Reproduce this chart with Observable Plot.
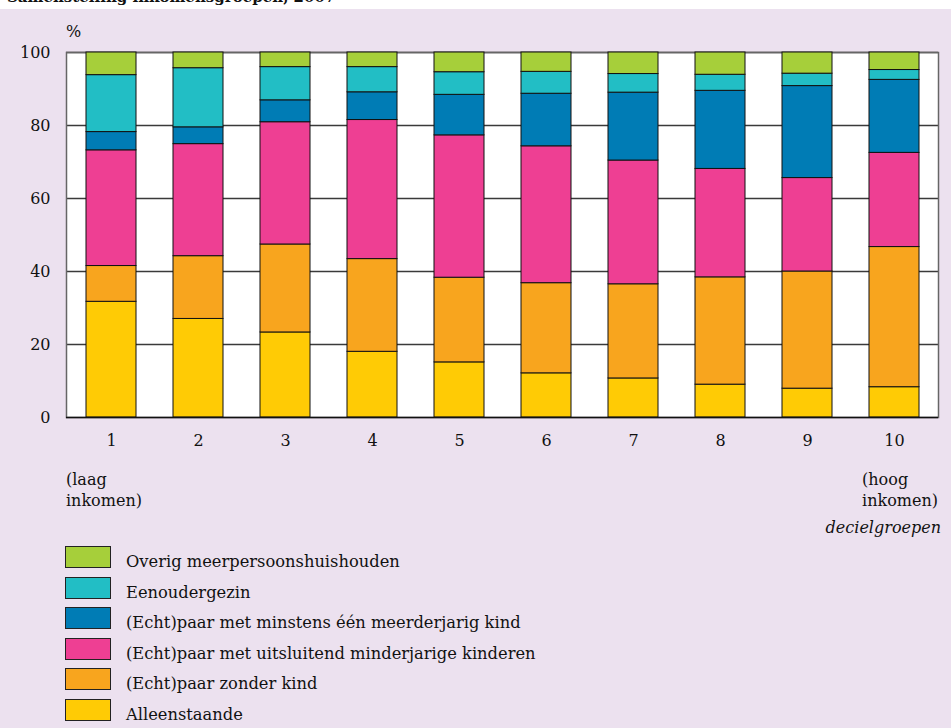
<!DOCTYPE html>
<html>
<head>
<meta charset="utf-8">
<script src="https://cdn.jsdelivr.net/npm/d3@7"></script>
<script src="https://cdn.jsdelivr.net/npm/@observablehq/plot@0.6"></script>
<style>
  html, body { margin: 0; padding: 0; background: #ffffff; }
  body { width: 951px; height: 728px; overflow: hidden; font-family: "DejaVu Serif", serif; color: #111; }
  #title { height: 9px; overflow: hidden; position: relative; }
  #title span { position: absolute; left: 7px; top: -12px; font-weight: bold; font-size: 15px; line-height: 18px; white-space: nowrap; }
  #panel { position: relative; height: 719px; background: #ece1ef; }
  #chart svg { display: block; }
  .note { position: absolute; font-size: 16px; line-height: 21px; white-space: nowrap; }
  #legend { position: absolute; left: 65px; top: 537px; }
  .row { height: 30.5px; position: relative; }
  .sw { width: 44px; height: 20px; border: 1px solid #222; box-sizing: content-box; position: absolute; left: 0; top: 0; }
  .lt { position: absolute; left: 61px; top: 5px; height: 22px; line-height: 22px; font-size: 16.3px; white-space: nowrap; }
</style>
</head>
<body>
<div id="title"><span>Samenstelling inkomensgroepen, 2007</span></div>
<div id="panel">
  <div id="chart"></div>
  <div class="note" style="left:66px; top:14px; line-height:18px;">%</div>
  <div class="note" style="left:66px; top:460px;">(laag<br>inkomen)</div>
  <div class="note" style="right:13px; top:460px;">(hoog<br>inkomen)</div>
  <div class="note" style="right:10px; top:508px; font-style:italic;">decielgroepen</div>
  <div id="legend"></div>
</div>
<script>
// Deciles (x categories)
const deciles = [1, 2, 3, 4, 5, 6, 7, 8, 9, 10];

// Series names, bottom of the stack first
const groups = [
  "Alleenstaande",
  "(Echt)paar zonder kind",
  "(Echt)paar met uitsluitend minderjarige kinderen",
  "(Echt)paar met minstens één meerderjarig kind",
  "Eenoudergezin",
  "Overig meerpersoonshuishouden"
];

// Series colours (same order as groups)
const colors = ["#ffcb05", "#f8a51e", "#ee3f93", "#007cb5", "#22bec5", "#a6cf3a"];

// Values (% per decile)
const alleenstaande   = [31.7, 27.0, 23.3, 18.0, 15.1, 12.1, 10.7, 9.0, 7.9, 8.3];
const zonderKind      = [9.8, 17.2, 24.1, 25.4, 23.2, 24.7, 25.8, 29.4, 32.1, 38.4];
const minderjarig     = [31.7, 30.7, 33.5, 38.1, 39.0, 37.5, 33.9, 29.7, 25.6, 25.8];
const meerderjarig    = [5.0, 4.6, 6.0, 7.6, 11.1, 14.4, 18.6, 21.4, 25.2, 20.0];
const eenouder        = [15.6, 16.2, 9.1, 6.9, 6.2, 6.0, 5.1, 4.4, 3.4, 2.7];
const overig          = [6.2, 4.3, 4.0, 4.0, 5.4, 5.3, 5.9, 6.1, 5.8, 4.8];

const series = [alleenstaande, zonderKind, minderjarig, meerderjarig, eenouder, overig];
const yTicks = [0, 20, 40, 60, 80, 100];

const data = [];
groups.forEach((g, gi) => {
  deciles.forEach((d, di) => data.push({decile: d, group: g, value: series[gi][di]}));
});

const chart = Plot.plot({
  width: 951,
  height: 460,
  marginTop: 43,
  marginBottom: 52,
  marginLeft: 66,
  marginRight: 13,
  style: {fontFamily: "DejaVu Serif, serif", fontSize: "16px", background: "transparent", color: "#111"},
  x: {type: "band", domain: deciles, paddingInner: 0.43, paddingOuter: 0.2, label: null},
  y: {domain: [0, 100], label: null},
  color: {domain: groups, range: colors},
  marks: [
    Plot.frame({fill: "white", stroke: "none"}),
    Plot.gridY(yTicks.slice(1), {stroke: "#3a3a3a", strokeOpacity: 1, strokeWidth: 1.5}),
    Plot.frame({stroke: "#666", strokeWidth: 1.5}),
    Plot.barY(data, {x: "decile", y: "value", fill: "group", stroke: "#111", strokeWidth: 1, order: groups}),
    Plot.ruleY([0], {stroke: "#111", strokeWidth: 1.5}),
    Plot.axisY({ticks: yTicks, tickSize: 0, tickPadding: 16, label: null}),
    Plot.axisX({tickSize: 0, tickPadding: 17, label: null})
  ]
});
document.getElementById("chart").appendChild(chart);

// Legend (top-to-bottom = top of stack first)
const legend = document.getElementById("legend");
groups.slice().reverse().forEach((g) => {
  const i = groups.indexOf(g);
  const row = document.createElement("div");
  row.className = "row";
  const sw = document.createElement("div");
  sw.className = "sw";
  sw.style.background = colors[i];
  const t = document.createElement("div");
  t.className = "lt";
  t.textContent = g;
  row.appendChild(sw);
  row.appendChild(t);
  legend.appendChild(row);
});
</script>
</body>
</html>
